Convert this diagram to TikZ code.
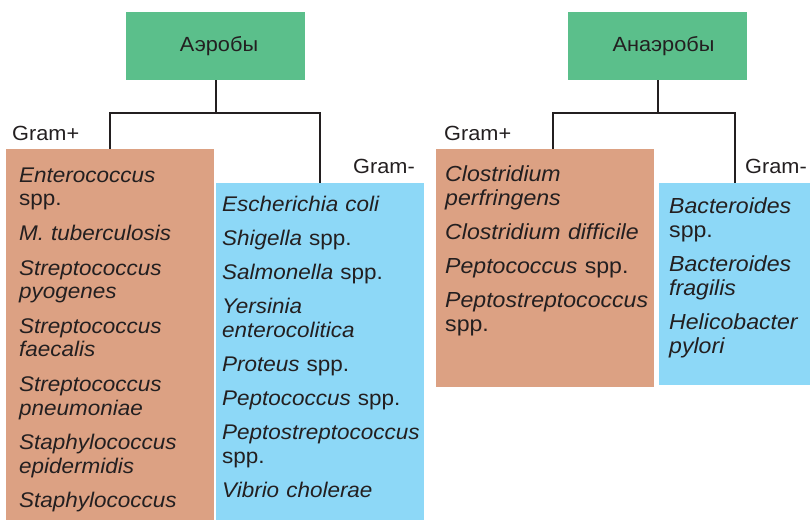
\documentclass[tikz,border=0pt]{standalone}
\usepackage{fontspec}
\setmainfont{Liberation Sans}[FakeStretch=1.06]
\definecolor{gbox}{HTML}{5BBF8B}
\definecolor{obox}{HTML}{DCA183}
\definecolor{bbox}{HTML}{8DD8F7}
\definecolor{ink}{HTML}{231F20}
\newcommand{\fs}[1]{\textit{#1}}
\newcommand{\fl}{\rule{0pt}{16pt}}
\begin{document}
\begin{tikzpicture}[x=1pt,y=-1pt,
  headbox/.style={fill=gbox,draw=none,inner sep=0pt,minimum width=179pt,minimum height=68pt},
  headtext/.style={inner sep=0pt,text=ink,font=\fontsize{20.5}{24}\selectfont},
  orbox/.style={fill=obox,draw=none,inner sep=0pt,anchor=north west},
  blbox/.style={fill=bbox,draw=none,inner sep=0pt,anchor=north west},
  listA/.style={inner sep=0pt,anchor=north west,text=ink,text width=205pt,align=left,font=\fontsize{21.2}{23.6}\selectfont},
  listB/.style={inner sep=0pt,anchor=north west,text=ink,text width=215pt,align=left,font=\fontsize{21.8}{23.8}\selectfont},
  gram/.style={inner sep=0pt,anchor=base west,text=ink,font=\fontsize{20.5}{24}\selectfont},
  conn/.style={draw=ink,line width=2pt}]
\useasboundingbox (0,0) rectangle (810,520);
% boxes
\node[headbox] (aer) at (215.5,46) {};
\node[headtext] (aerT) at ([xshift=3.5pt]aer.center) {Аэробы};
\node[headbox] (ana) at (657.5,46) {};
\node[headtext] (anaT) at ([xshift=6pt]ana.center) {Анаэробы};
\node[orbox,minimum width=208pt,minimum height=371pt] (orA) at (6,149) {};
\node[blbox,minimum width=208pt,minimum height=337pt] (blA) at (216,183) {};
\node[orbox,minimum width=218pt,minimum height=238pt] (orB) at (436,149) {};
\node[blbox,minimum width=151pt,minimum height=202pt] (blB) at (659,183) {};
% connectors
\coordinate (ja) at (215.5,113);
\coordinate (jb) at (657.5,113);
\draw[conn] (aer.south) -- (ja);
\draw[conn] (ja) -| (orA.north);
\draw[conn] (ja) -| (blA.north);
\draw[conn] (ana.south) -- (jb);
\draw[conn] (jb) -| ([xshift=8pt]orB.north);
\draw[conn] (jb) -| (blB.north);
% gram labels
\node[gram] (gpA) at (12,140) {Gram+};
\node[gram] (gmA) at (353,173) {Gram-};
\node[gram] (gpB) at (444,140) {Gram+};
\node[gram] (gmB) at (745,173) {Gram-};
% lists
\node[listA] (tOA) at (19,166) {\fl\fs{Enterococcus}\\ spp.\\[11pt]
\fs{M. tuberculosis}\\[11pt]
\fs{Streptococcus}\\ \fs{pyogenes}\\[11pt]
\fs{Streptococcus}\\ \fs{faecalis}\\[11pt]
\fs{Streptococcus}\\ \fs{pneumoniae}\\[11pt]
\fs{Staphylococcus}\\ \fs{epidermidis}\\[11pt]
\fs{Staphylococcus}};
\node[listA,font=\fontsize{21.2}{23.4}\selectfont] (tBA) at (222,195) {\fl\fs{Escherichia coli}\\[10.8pt]
\fs{Shigella} spp.\\[10.8pt]
\fs{Salmonella} spp.\\[10.8pt]
\fs{Yersinia}\\ \fs{enterocolitica}\\[10.8pt]
\fs{Proteus} spp.\\[10.8pt]
\fs{Peptococcus} spp.\\[10.8pt]
\fs{Peptostreptococcus}\\ spp.\\[10.8pt]
\fs{Vibrio cholerae}};
\node[listB] (tOB) at (445,165) {\fl\fs{Clostridium}\\ \fs{perfringens}\\[10.5pt]
\fs{Clostridium difficile}\\[10.5pt]
\fs{Peptococcus} spp.\\[10.5pt]
\fs{Peptostreptococcus}\\ spp.};
\node[listB,text width=140pt] (tBB) at (669,197) {\fl\fs{Bacteroides}\\ spp.\\[10.5pt]
\fs{Bacteroides}\\ \fs{fragilis}\\[10.5pt]
\fs{Helicobacter}\\ \fs{pylori}};
\end{tikzpicture}
\end{document}
